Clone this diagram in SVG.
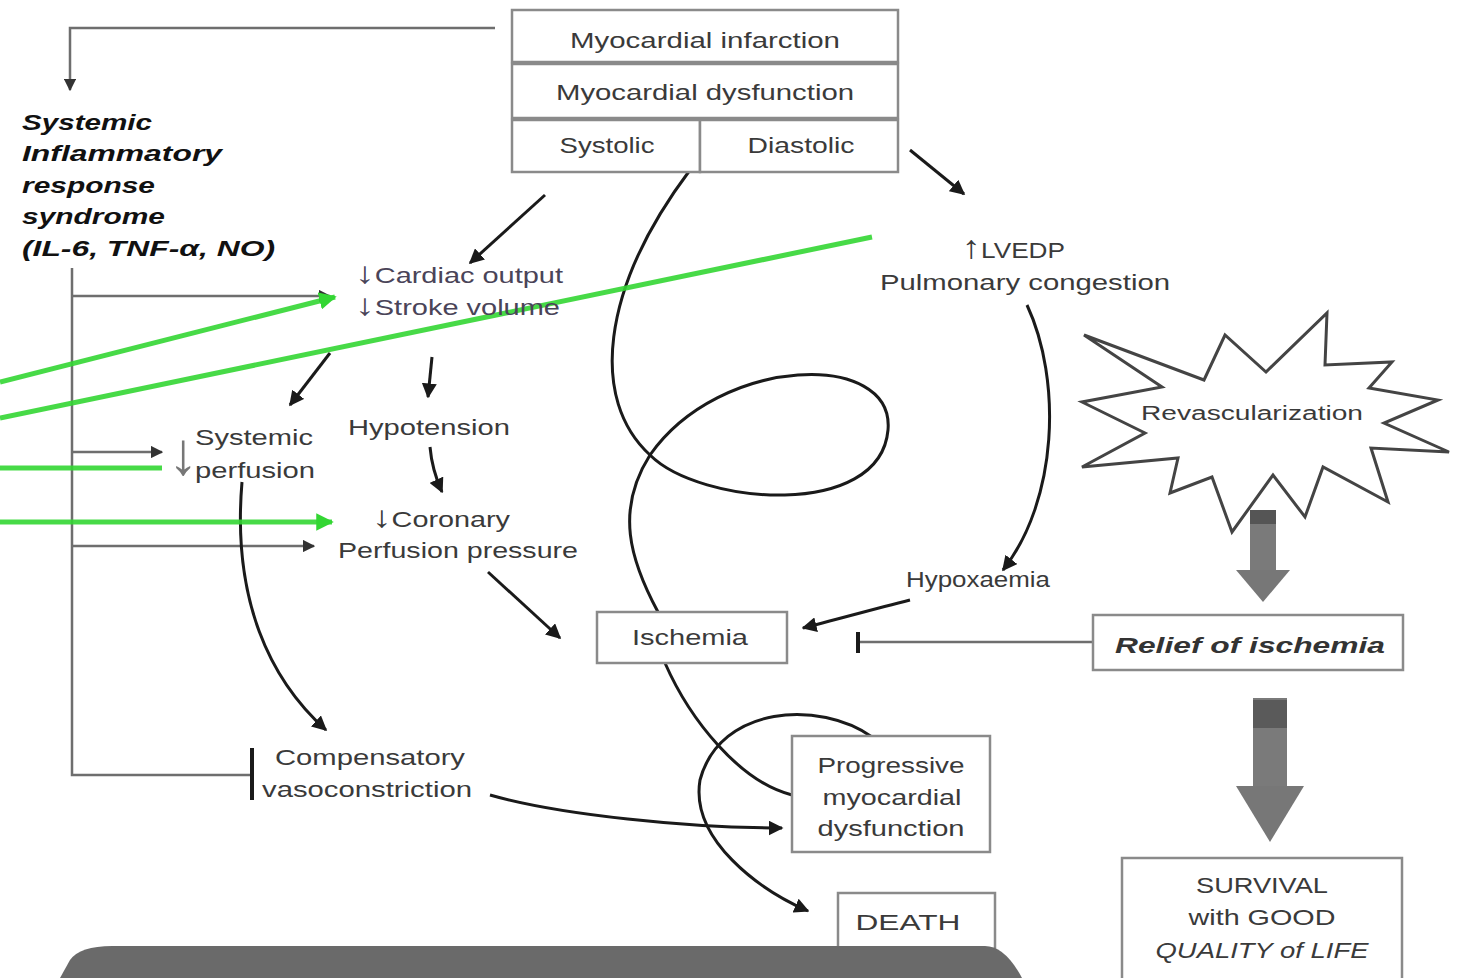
<svg xmlns="http://www.w3.org/2000/svg" width="1461" height="978" viewBox="0 0 1461 978">
<defs>
<style>
.t{font-family:"Liberation Sans",Arial,sans-serif;font-size:22px;fill:#3a3a3a;}
.c{text-anchor:middle;}
.b{font-weight:bold;fill:#111;font-style:italic;}
.box{fill:#fff;stroke:#8a8a8a;stroke-width:2.5;}
.k{fill:none;stroke:#1a1a1a;stroke-width:3;}
.g{fill:none;stroke:#6e6e6e;stroke-width:2.5;}
.gr{fill:none;stroke:#33d633;stroke-width:5;stroke-opacity:0.9;}
</style>
<marker id="ah" viewBox="0 0 10 10" refX="9" refY="5" markerWidth="5" markerHeight="5" orient="auto">
<path d="M0,0 L10,5 L0,10 Z" fill="#1a1a1a"/>
</marker>
<marker id="ahg" viewBox="0 0 10 10" refX="9" refY="5" markerWidth="5" markerHeight="5" orient="auto">
<path d="M0,0 L10,5 L0,10 Z" fill="#333"/>
</marker>
<marker id="ahgr" viewBox="0 0 10 10" refX="9" refY="5" markerWidth="3.5" markerHeight="3.5" orient="auto">
<path d="M0,0 L10,5 L0,10 Z" fill="#33d633"/>
</marker>
</defs>
<rect width="1461" height="978" fill="#fff"/>

<g id="connectors">
<path class="g" d="M495,28 H70 V90" marker-end="url(#ahg)"/>
<path class="g" d="M72,268 V775 H250"/>
<line x1="252" y1="748" x2="252" y2="800" stroke="#1a1a1a" stroke-width="4"/>
<path class="g" d="M72,296 H330" marker-end="url(#ahg)"/>
<path class="g" d="M72,452 H162" marker-end="url(#ahg)"/>
<path class="g" d="M72,546 H314" marker-end="url(#ahg)"/>
<path class="k" d="M545,195 L470,263" marker-end="url(#ah)"/>
<path class="k" d="M910,150 L964,194" marker-end="url(#ah)"/>
<path class="k" d="M330,353 L290,405" marker-end="url(#ah)"/>
<path class="k" d="M432,357 L428,397" marker-end="url(#ah)"/>
<path class="k" d="M430,447 Q432,470 442,492" marker-end="url(#ah)"/>
<path class="k" d="M488,572 L560,638" marker-end="url(#ah)"/>
<path class="k" d="M1027,305 C1062,380 1058,500 1003,570" marker-end="url(#ah)"/>
<path class="k" d="M910,600 C870,610 835,620 803,628" marker-end="url(#ah)"/>
<path class="g" d="M1093,642 H860"/>
<line x1="858" y1="632" x2="858" y2="653" stroke="#1a1a1a" stroke-width="4"/>
<path class="k" d="M242,482 C232,600 270,680 326,730" marker-end="url(#ah)"/>
<path class="k" d="M490,795 C560,815 690,828 782,828" marker-end="url(#ah)"/>
<path class="k" d="M690,170 C600,290 590,400 650,455 C700,505 880,520 888,430 C895,350 720,355 650,455 C615,510 630,560 658,612"/>
<path class="k" d="M665,663 C690,720 740,782 792,795"/>
<path class="k" d="M872,737 C820,700 720,705 700,780 C690,840 760,890 808,911" marker-end="url(#ah)"/>
</g>

<g id="green-lines">
<path class="gr" d="M0,382 L335,297" marker-end="url(#ahgr)"/>
<path class="gr" d="M0,418 L872,237"/>
<path class="gr" d="M0,468 H162"/>
<path class="gr" d="M0,522 H332" marker-end="url(#ahgr)"/>
</g>

<g id="node-mi">
<rect class="box" x="512" y="10" width="386" height="52"/>
<text class="t c" x="705" y="48" textLength="270" lengthAdjust="spacingAndGlyphs">Myocardial infarction</text>
</g>
<g id="node-md">
<rect class="box" x="512" y="64" width="386" height="54"/>
<text class="t c" x="705" y="100" textLength="298" lengthAdjust="spacingAndGlyphs">Myocardial dysfunction</text>
</g>
<g id="node-systolic">
<rect class="box" x="512" y="120" width="188" height="52"/>
<text class="t c" x="607" y="153" textLength="95" lengthAdjust="spacingAndGlyphs">Systolic</text>
</g>
<g id="node-diastolic">
<rect class="box" x="700" y="120" width="198" height="52"/>
<text class="t c" x="801" y="153" textLength="107" lengthAdjust="spacingAndGlyphs">Diastolic</text>
</g>

<g id="node-sirs">
<text class="t b" x="22" y="130" textLength="130" lengthAdjust="spacingAndGlyphs">Systemic</text>
<text class="t b" x="22" y="161" textLength="200" lengthAdjust="spacingAndGlyphs">Inflammatory</text>
<text class="t b" x="22" y="193" textLength="133" lengthAdjust="spacingAndGlyphs">response</text>
<text class="t b" x="22" y="224" textLength="143" lengthAdjust="spacingAndGlyphs">syndrome</text>
<text class="t b" x="22" y="256" textLength="253" lengthAdjust="spacingAndGlyphs">(IL-6, TNF-α, NO)</text>
</g>

<g id="node-co">
<text class="t" x="355" y="283" style="fill:#4a4458" textLength="208" lengthAdjust="spacingAndGlyphs"><tspan style="font-size:30px">↓</tspan>Cardiac output</text>
<text class="t" x="355" y="315" style="fill:#4a4458" textLength="205" lengthAdjust="spacingAndGlyphs"><tspan style="font-size:30px">↓</tspan>Stroke volume</text>
</g>
<g id="node-sysperf">
<text class="t" x="168" y="474" style="font-size:60px;fill:#777">↓</text>
<text class="t" x="195" y="445" textLength="118" lengthAdjust="spacingAndGlyphs">Systemic</text>
<text class="t" x="195" y="478" textLength="120" lengthAdjust="spacingAndGlyphs">perfusion</text>
</g>
<g id="node-hypotension">
<text class="t" x="348" y="435" textLength="162" lengthAdjust="spacingAndGlyphs">Hypotension</text>
</g>
<g id="node-cpp">
<text class="t" x="372" y="527" textLength="138" lengthAdjust="spacingAndGlyphs"><tspan style="font-size:30px">↓</tspan>Coronary</text>
<text class="t" x="338" y="558" textLength="240" lengthAdjust="spacingAndGlyphs">Perfusion pressure</text>
</g>
<g id="node-lvedp">
<text class="t" x="962" y="258" textLength="103" lengthAdjust="spacingAndGlyphs"><tspan style="font-size:32px">↑</tspan>LVEDP</text>
<text class="t" x="880" y="290" textLength="290" lengthAdjust="spacingAndGlyphs">Pulmonary congestion</text>
</g>
<g id="node-revasc">
<polygon points="1084,335 1204,380 1225,335 1266,372 1327,313 1325,365 1392,362 1369,388 1438,400 1384,423 1449,452 1371,448 1388,502 1323,467 1305,517 1273,475 1232,532 1212,477 1170,493 1178,458 1082,467 1145,433 1082,402 1162,387" fill="#fff" stroke="#444" stroke-width="3" stroke-linejoin="miter"/>
<text class="t c" x="1252" y="420" style="font-size:20px" textLength="222" lengthAdjust="spacingAndGlyphs">Revascularization</text>
</g>
<g id="node-hypox">
<text class="t" x="906" y="587" textLength="144" lengthAdjust="spacingAndGlyphs">Hypoxaemia</text>
</g>
<g id="node-ischemia">
<rect class="box" x="597" y="612" width="190" height="51"/>
<text class="t c" x="690" y="645" textLength="116" lengthAdjust="spacingAndGlyphs">Ischemia</text>
</g>
<g id="node-relief">
<rect class="box" x="1093" y="615" width="310" height="55"/>
<text class="t c b" x="1250" y="653" style="fill:#333" textLength="270" lengthAdjust="spacingAndGlyphs">Relief of ischemia</text>
</g>
<g id="node-progressive">
<rect class="box" x="792" y="736" width="198" height="116"/>
<text class="t c" x="891" y="773" textLength="147" lengthAdjust="spacingAndGlyphs">Progressive</text>
<text class="t c" x="892" y="805" textLength="139" lengthAdjust="spacingAndGlyphs">myocardial</text>
<text class="t c" x="891" y="836" textLength="147" lengthAdjust="spacingAndGlyphs">dysfunction</text>
</g>
<g id="node-death">
<rect class="box" x="838" y="893" width="157" height="60"/>
<text class="t c" x="908" y="930" textLength="105" lengthAdjust="spacingAndGlyphs">DEATH</text>
</g>
<g id="node-survival">
<rect class="box" x="1122" y="858" width="280" height="125"/>
<text class="t c" x="1262" y="893" textLength="132" lengthAdjust="spacingAndGlyphs">SURVIVAL</text>
<text class="t c" x="1262" y="925" textLength="147" lengthAdjust="spacingAndGlyphs">with GOOD</text>
<text class="t c" x="1262" y="958" style="font-style:italic" textLength="213" lengthAdjust="spacingAndGlyphs">QUALITY of LIFE</text>
</g>
<g id="node-comp">
<text class="t" x="275" y="765" textLength="190" lengthAdjust="spacingAndGlyphs">Compensatory</text>
<text class="t" x="262" y="797" textLength="210" lengthAdjust="spacingAndGlyphs">vasoconstriction</text>
</g>

<g id="block-arrows">
<rect x="1250" y="510" width="26" height="62" fill="#7a7a7a"/>
<rect x="1250" y="510" width="26" height="14" fill="#555"/>
<polygon points="1236,570 1290,570 1263,602" fill="#777"/>
<rect x="1253" y="698" width="34" height="90" fill="#7a7a7a"/>
<rect x="1253" y="700" width="34" height="28" fill="#5a5a5a"/>
<polygon points="1236,786 1304,786 1270,842" fill="#777"/>
</g>

<path id="bottom-bar" d="M60,978 L70,960 Q80,946 112,946 L985,946 Q1005,946 1022,978 Z" fill="#6a6a6a"/>
</svg>
